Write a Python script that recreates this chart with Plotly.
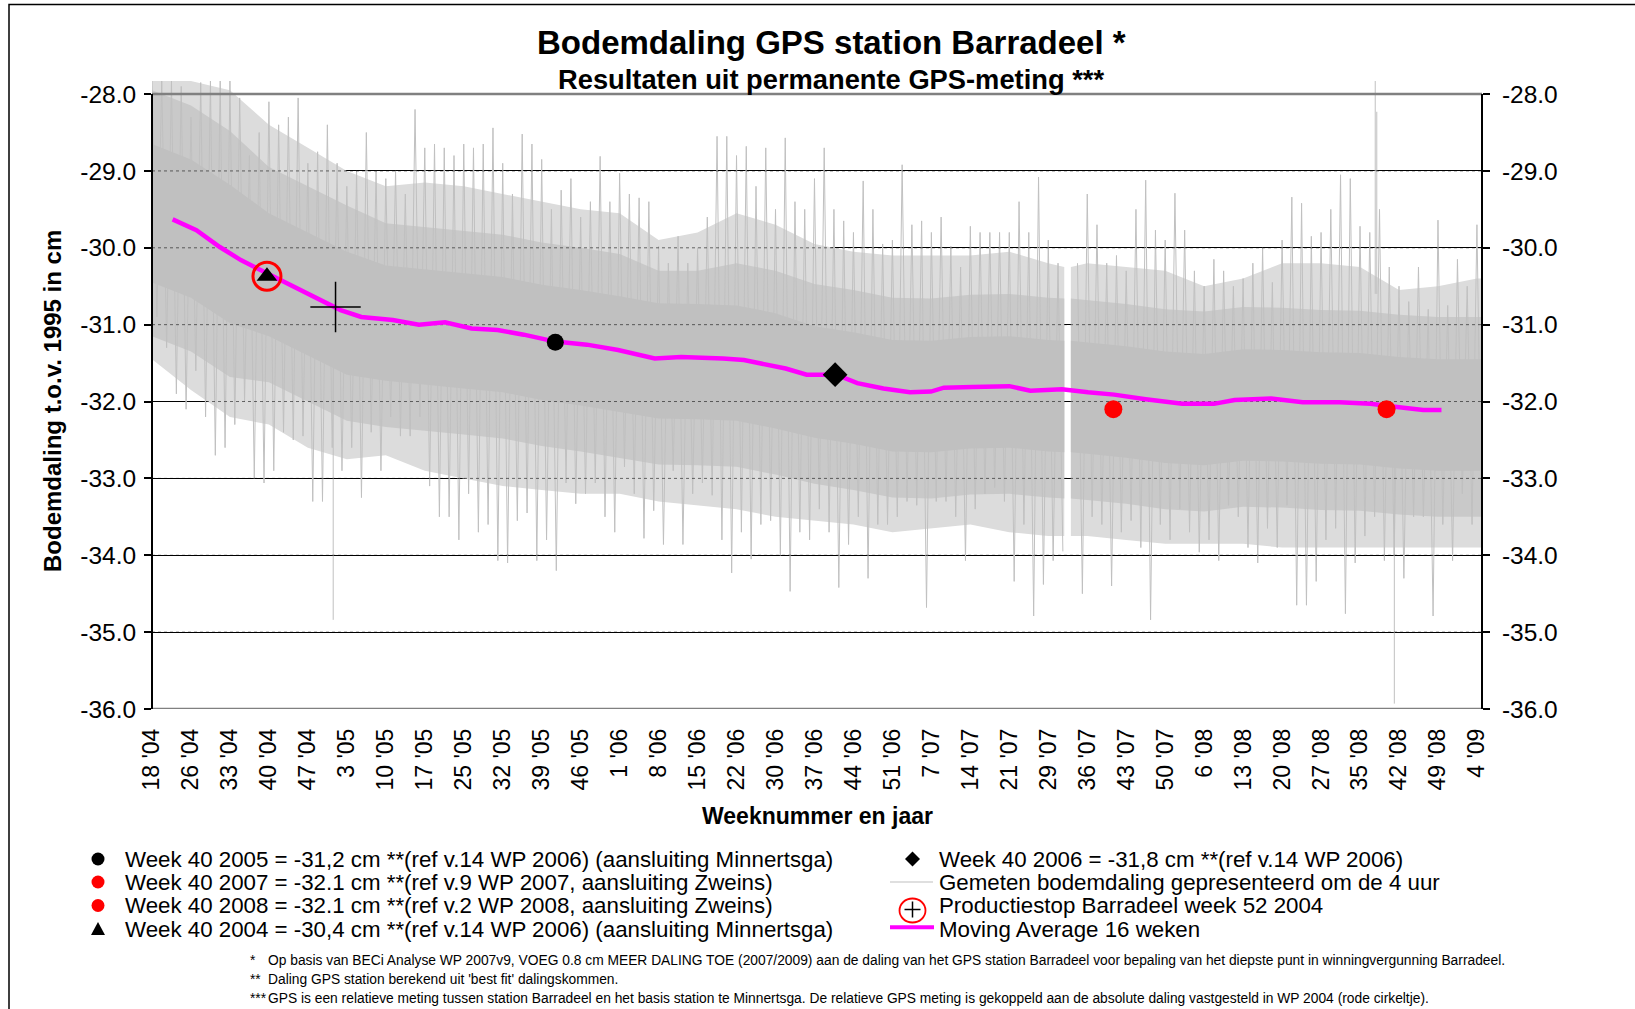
import plotly.graph_objects as go

# ---------------------------------------------------------------- data
x_labels = ["18 '04", "26 '04", "33 '04", "40 '04", "47 '04", "3 '05", "10 '05", "17 '05",
            "25 '05", "32 '05", "39 '05", "46 '05", "1 '06", "8 '06", "15 '06", "22 '06",
            "30 '06", "37 '06", "44 '06", "51 '06", "7 '07", "14 '07", "21 '07", "29 '07",
            "36 '07", "43 '07", "50 '07", "6 '08", "13 '08", "20 '08", "27 '08", "35 '08",
            "42 '08", "49 '08", "4 '09"]
y_ticks = [-28.0, -29.0, -30.0, -31.0, -32.0, -33.0, -34.0, -35.0, -36.0]

# x unit = one tick-label interval (label i sits at x = i)
# Measured series (grey, every 4 h): highest / lowest sample per quarter interval
meas_step = 0.25
meas_high = [-27.83, -27.83, -27.83, -27.9, -28.3, -27.85, -27.83, -27.83, -27.83, -28.05,
             -28.8, -28.5, -28.1, -28.4, -28.3, -28.05, -28.9, -28.75, -28.4, -28.9,
             -29.2, -29.0, -28.5, -29.0, -29.1, -29.0, -29.3, -28.2, -28.7, -28.65,
             -28.7, -28.8, -28.65, -28.7, -28.65,
             -28.44, -28.9, -29.3, -28.52, -28.65, -28.85, -29.5, -29.25, -29.1, -29.6,
             -29.4, -28.81, -29.4, -29.03, -29.3, -29.35, -29.4, -29.98, -30.2, -29.85,
             -30.2, -30.0, -29.6, -28.55, -28.55, -28.8, -28.68, -29.2, -28.7, -29.5,
             -28.57, -29.4, -29.5, -29.1,
             -28.7, -29.5, -29.65, -29.8, -29.13, -29.5, -29.95, -29.9, -28.92, -29.7,
             -29.65, -29.8, -29.6, -29.98, -30.25, -29.72, -29.8, -29.8, -29.8, -29.8,
             -29.4, -29.8, -29.08, -29.9, -30.2, None, -30.2, -29.3, -29.7, -30.2,
             -30.1, -30.3, -29.5, -29.12,
             -29.77, -29.9, -29.29, -29.77, -30.3, -30.5, -30.15, -30.3, -30.5, -30.4,
             -30.2, -30.0, -30.45, -29.9, -29.34, -29.42, -29.85, -29.8, -29.5, -29.05,
             -29.1, -29.72, -29.8, -29.5, -30.25, -30.5, -30.7, -30.25, -30.8, -29.64,
             -30.75, -30.15, -30.5, -29.7]
meas_low = [-30.9, -31.3, -31.9, -32.1, -31.6, -32.2, -32.7, -32.6, -32.3, -32.0,
            -33.0, -33.06, -32.9, -32.4, -32.5, -32.45, -33.3, -33.3, -32.6, -32.9,
            -32.6, -33.25, -32.4, -32.9, -32.2, -32.45, -32.45, -32.2, -33.1, -33.5,
            -33.5, -33.8, -33.2, -33.7, -33.6,
            -34.07, -34.1, -33.55, -33.45, -34.07, -33.8, -34.2, -33.06, -33.33, -33.2,
            -33.06, -33.5, -33.7, -32.85, -33.2, -33.78, -33.42, -33.86, -32.9, -33.86,
            -33.2, -33.06, -33.22, -33.8, -34.23, -33.7, -34.05, -33.6, -33.55, -34.0,
            -34.47, -33.7, -33.8, -33.4,
            -33.7, -34.42, -33.86, -33.5, -34.3, -33.6, -33.6, -33.5, -33.3, -33.35,
            -34.68, -33.3, -33.3, -33.5, -34.07, -33.4, -33.2, -33.12, -33.3, -34.34,
            -33.6, -34.79, -34.38, -34.07, -33.95, None, -34.5, -33.5, -33.6, -34.4,
            -33.7, -33.55, -33.9, -34.84,
            -33.6, -33.8, -33.4, -33.7, -33.96, -33.8, -34.07, -33.35, -33.5, -33.9,
            -34.1, -33.65, -33.9, -33.35, -34.65, -34.65, -34.34, -33.8, -33.65, -34.76,
            -34.1, -33.75, -33.5, -34.07, -34.0, -34.3, -33.5, -33.5, -34.79, -33.6,
            -34.07, -33.2, -33.6, -33.75]

# band positions (label-interval units), with the data gap edges
band_pos = [0, 1, 2, 3, 4, 5, 6, 7, 8, 9, 10, 11, 12, 13, 14, 15, 16, 17, 18, 19, 20, 21,
            22, 23, 23.41, 23.58, 24, 25, 26, 27, 28, 29, 30, 31, 32, 33, 34, 34.13]
# solid core of the measurements
core_high = [-28.65, -28.85, -29.18, -29.55, -29.8, -30.05, -30.23, -30.28, -30.33, -30.38,
             -30.48, -30.55, -30.63, -30.72, -30.73, -30.75, -30.85, -31.02, -31.1, -31.2,
             -31.21, -31.16, -31.15, -31.2, -31.21, -31.21, -31.23, -31.28, -31.35, -31.38,
             -31.32, -31.33, -31.36, -31.37, -31.42, -31.45, -31.45, -31.45]
core_low = [-30.45, -30.65, -30.98, -31.15, -31.4, -31.65, -31.73, -31.78, -31.83, -31.88,
            -31.98, -32.05, -32.13, -32.22, -32.23, -32.25, -32.35, -32.47, -32.55, -32.65,
            -32.66, -32.61, -32.6, -32.65, -32.66, -32.66, -32.68, -32.73, -32.8, -32.83,
            -32.77, -32.78, -32.81, -32.82, -32.87, -32.9, -32.9, -32.9]
# dense "forest" of samples around the core
forest_high = [-27.95, -28.15, -28.48, -28.95, -29.2, -29.45, -29.68, -29.73, -29.78, -29.83,
               -29.93, -30.0, -30.08, -30.3, -30.3, -30.2, -30.3, -30.47, -30.55, -30.65,
               -30.66, -30.61, -30.6, -30.65, -30.66, -30.66, -30.68, -30.73, -30.8, -30.83,
               -30.77, -30.78, -30.81, -30.82, -30.87, -30.9, -30.9, -30.9]
forest_low = [-31.15, -31.35, -31.68, -31.75, -32.0, -32.25, -32.33, -32.38, -32.43, -32.48,
              -32.58, -32.65, -32.73, -32.82, -32.83, -32.85, -32.95, -33.07, -33.15, -33.25,
              -33.26, -33.21, -33.2, -33.25, -33.26, -33.26, -33.28, -33.33, -33.4, -33.43,
              -33.37, -33.38, -33.41, -33.42, -33.47, -33.5, -33.5, -33.5]
# sparser outer fringe of samples
halo_high = [-27.83, -27.83, -27.95, -28.4, -28.7, -29.0, -29.2, -29.15, -29.2, -29.3,
             -29.4, -29.5, -29.55, -29.9, -29.8, -29.55, -29.7, -29.95, -30.05, -30.1,
             -30.1, -30.1, -30.05, -30.2, -30.25, -30.25, -30.2, -30.25, -30.3, -30.5,
             -30.4, -30.2, -30.2, -30.25, -30.55, -30.5, -30.4, -30.4]
halo_low = [-31.45, -31.85, -32.2, -32.3, -32.6, -32.75, -32.7, -32.9, -33.0, -33.1,
            -33.15, -33.2, -33.2, -33.3, -33.35, -33.4, -33.5, -33.55, -33.6, -33.7,
            -33.65, -33.6, -33.7, -33.75, -33.75, -33.75, -33.75, -33.8, -33.85, -33.85,
            -33.85, -33.9, -33.9, -33.9, -33.9, -33.9, -33.9, -33.9]
gap_from, gap_to = 23.41, 23.58

# isolated extreme samples
outlier_pos = [4.65, 31.39, 31.43, 31.88]
outlier_base = [-31.0, -30.6, -30.6, -32.6]
outlier_peak = [-34.84, -27.83, -28.23, -35.93]

# Moving Average 16 weken
ma_pos = [0.53, 1.14, 1.74, 2.28, 2.95, 3.63, 4.30, 4.84, 5.37, 6.18, 6.85, 7.52, 8.20,
          8.87, 9.54, 10.35, 11.16, 11.96, 12.9, 13.58, 14.65, 15.19, 16.26, 16.8, 17.56,
          18.1, 18.77, 19.45, 19.99, 20.32, 21.06, 22.0, 22.54, 23.35, 24.02, 24.69, 25.5,
          26.44, 27.25, 27.78, 28.72, 29.53, 30.47, 31.27, 31.95, 32.62, 33.09]
ma_val = [-29.63, -29.77, -29.99, -30.16, -30.33, -30.5, -30.66, -30.81, -30.9, -30.94,
          -31.0, -30.97, -31.05, -31.07, -31.13, -31.22, -31.26, -31.33, -31.44, -31.42,
          -31.44, -31.46, -31.57, -31.65, -31.65, -31.76, -31.83, -31.88, -31.87, -31.82,
          -31.81, -31.80, -31.86, -31.84, -31.88, -31.91, -31.97, -32.03, -32.03, -31.98,
          -31.96, -32.01, -32.01, -32.03, -32.07, -32.11, -32.11]

# reference points
w40_2004_pos, w40_2004_val = [2.95], [-30.37]
stop_pos, stop_val = [4.71], [-30.77]
w40_2005_pos, w40_2005_val = [10.35], [-31.23]
w40_2006_pos, w40_2006_val = [17.53], [-31.65]
red_pos, red_val = [24.67, 31.68], [-32.1, -32.1]

x_max = 34.13
y_min, y_max = -36.0, -27.83

legend_left = [
    "Week 40 2005 = -31,2 cm **(ref v.14 WP 2006) (aansluiting Minnertsga)",
    "Week 40 2007 = -32.1 cm **(ref v.9 WP 2007, aansluiting Zweins)",
    "Week 40 2008 = -32.1 cm **(ref v.2 WP 2008, aansluiting Zweins)",
    "Week 40 2004 = -30,4 cm **(ref v.14 WP 2006) (aansluiting Minnertsga)",
]
legend_right = [
    "Week 40 2006 = -31,8 cm **(ref v.14 WP 2006)",
    "Gemeten bodemdaling gepresenteerd om de 4 uur",
    "Productiestop Barradeel week 52 2004",
    "Moving Average 16 weken",
]
footnotes = [
    ("*", "Op basis van BECi Analyse WP 2007v9, VOEG 0.8 cm MEER DALING TOE (2007/2009) aan de daling van het GPS station Barradeel voor bepaling van het diepste punt in winningvergunning Barradeel."),
    ("**", "Daling GPS station berekend uit 'best fit' dalingskommen."),
    ("***", "GPS is een relatieve meting tussen station Barradeel en het basis station te Minnertsga. De relatieve GPS meting is gekoppeld aan de absolute daling vastgesteld in WP 2004 (rode cirkeltje)."),
]

# ---------------------------------------------------------------- layout helpers
FONT = "Liberation Sans, Arial, Helvetica, sans-serif"
W, H = 1635, 1009
ML, MR, MT, MB = 152, 153, 81, 300
PW, PH = W - ML - MR, H - MT - MB


def px_x(p):
    return (p - ML) / PW


def px_y(p):
    return (H - MB - p) / PH


GREY = "#C0C0C0"
fig = go.Figure()


def add_band(hi_list, lo_list, color):
    for keep in (lambda t: t <= gap_from, lambda t: t >= gap_to):
        idx = [i for i, t in enumerate(band_pos) if keep(t)]
        px_ = [band_pos[i] for i in idx]
        hi_ = [hi_list[i] for i in idx]
        lo_ = [lo_list[i] for i in idx]
        fig.add_trace(go.Scatter(x=px_ + px_[::-1], y=hi_ + lo_[::-1], mode="lines",
                                 fill="toself", fillcolor=color, line=dict(width=0, color=color),
                                 hoverinfo="skip", showlegend=False))


add_band(halo_high, halo_low, "#DCDCDC")
add_band(forest_high, forest_low, "#C9C9C9")
add_band(core_high, core_low, GREY)

# measured noise as zig-zag high/low
zx, zy = [], []
for i, (hi, lo) in enumerate(zip(meas_high, meas_low)):
    p = i * meas_step
    if hi is None or lo is None:
        zx.append(None); zy.append(None)
        continue
    zx += [p, p + meas_step / 2]
    zy += [hi, lo]
fig.add_trace(go.Scatter(x=zx, y=zy, mode="lines", line=dict(color=GREY, width=1),
                         hoverinfo="skip", showlegend=False))

ox, oy = [], []
for p, b, v in zip(outlier_pos, outlier_base, outlier_peak):
    ox += [p, p, None]
    oy += [b, v, None]
fig.add_trace(go.Scatter(x=ox, y=oy, mode="lines", line=dict(color=GREY, width=1),
                         hoverinfo="skip", showlegend=False))

# gridlines showing through the grey
gx, gy = [], []
for v in y_ticks[1:-1]:
    gx += [0, x_max, None]
    gy += [v, v, None]
fig.add_trace(go.Scatter(x=gx, y=gy, mode="lines",
                         line=dict(color="rgba(0,0,0,0.55)", width=1, dash="dot"),
                         hoverinfo="skip", showlegend=False))

# moving average
fig.add_trace(go.Scatter(x=ma_pos, y=ma_val, mode="lines", line=dict(color="#FF00FF", width=4.5),
                         hoverinfo="skip", showlegend=False))

# reference markers (on overlaying right axis -> drawn on top)
mk = dict(mode="markers", hoverinfo="skip", showlegend=False, yaxis="y2")
fig.add_trace(go.Scatter(x=w40_2004_pos, y=w40_2004_val,
                         marker=dict(symbol="circle-open", size=28, color="#FF0000",
                                     line=dict(width=3, color="#FF0000")), **mk))
fig.add_trace(go.Scatter(x=w40_2004_pos, y=w40_2004_val,
                         marker=dict(symbol="triangle-up", size=18, color="black"), **mk))
fig.add_trace(go.Scatter(x=stop_pos, y=stop_val,
                         marker=dict(symbol="cross-thin-open", size=36, color="black",
                                     line=dict(width=1.5, color="black")), **mk))
fig.add_trace(go.Scatter(x=w40_2005_pos, y=w40_2005_val,
                         marker=dict(symbol="circle", size=17, color="black"), **mk))
fig.add_trace(go.Scatter(x=w40_2006_pos, y=w40_2006_val,
                         marker=dict(symbol="diamond", size=19, color="black"), **mk))
fig.add_trace(go.Scatter(x=red_pos, y=red_val,
                         marker=dict(symbol="circle", size=18, color="#FF0000"), **mk))

ytext = ["%.1f" % v for v in y_ticks]
yax = dict(range=[y_min, y_max], tickvals=y_ticks, ticktext=ytext, ticks="outside", ticklen=7,
           tickwidth=1.5, tickcolor="black", zeroline=False, showline=False,
           tickfont=dict(family=FONT, size=24.5, color="black"))
fig.update_layout(
    width=W, height=H, margin=dict(l=ML, r=MR, t=MT, b=MB, pad=0),
    paper_bgcolor="white", plot_bgcolor="white",
    xaxis=dict(range=[0, x_max], tickvals=list(range(len(x_labels))), ticktext=x_labels,
               tickangle=-90, ticks="", showgrid=False, zeroline=False, showline=False,
               tickfont=dict(family=FONT, size=23, color="black"), ticklabelstandoff=14),
    yaxis=dict(showgrid=True, gridcolor="black", gridwidth=1, side="left",
               ticklabelstandoff=3, **yax),
    yaxis2=dict(overlaying="y", side="right", showgrid=False, ticklabelstandoff=7, **yax),
    showlegend=False,
)

shapes = []
# plot frame
shapes.append(dict(type="line", xref="paper", yref="y", x0=0, x1=1, y0=-28, y1=-28,
                   line=dict(color="#808080", width=2.5), layer="above"))
shapes.append(dict(type="line", xref="paper", yref="y", x0=0, x1=1, y0=-36, y1=-36,
                   line=dict(color="#808080", width=2.5), layer="above"))
for xp in (0, 1):
    shapes.append(dict(type="line", xref="paper", yref="y", x0=xp, x1=xp, y0=-36, y1=-28,
                       line=dict(color="black", width=2), layer="above"))
# outer chart border
shapes.append(dict(type="rect", xref="paper", yref="paper", x0=px_x(9), x1=px_x(1645),
                   y0=px_y(1020), y1=px_y(4.5), line=dict(color="black", width=1.5),
                   fillcolor="rgba(0,0,0,0)", layer="above"))

ann = []
ann.append(dict(text="Bodemdaling GPS station Barradeel *", x=px_x(831), y=px_y(42),
                xref="paper", yref="paper", showarrow=False, xanchor="center", yanchor="middle",
                font=dict(family=FONT, size=33, color="black", weight="bold")))
ann.append(dict(text="Resultaten uit permanente GPS-meting ***", x=px_x(831), y=px_y(80),
                xref="paper", yref="paper", showarrow=False, xanchor="center", yanchor="middle",
                font=dict(family=FONT, size=27.3, color="black", weight="bold")))
ann.append(dict(text="Weeknummer en jaar", x=px_x(817), y=px_y(816), xref="paper", yref="paper",
                showarrow=False, xanchor="center", yanchor="middle",
                font=dict(family=FONT, size=23, color="black", weight="bold")))
ann.append(dict(text="Bodemdaling t.o.v. 1995 in cm", x=px_x(52), y=px_y(401), xref="paper",
                yref="paper", showarrow=False, xanchor="center", yanchor="middle", textangle=-90,
                font=dict(family=FONT, size=24, color="black", weight="bold")))

rows = [859, 882, 905.5, 929]
for r, t in zip(rows, legend_left):
    ann.append(dict(text=t, x=px_x(123), y=px_y(r), xref="paper", yref="paper", showarrow=False,
                    xanchor="left", yanchor="middle", font=dict(family=FONT, size=22.3, color="black")))
for r, t in zip(rows, legend_right):
    ann.append(dict(text=t, x=px_x(937), y=px_y(r), xref="paper", yref="paper", showarrow=False,
                    xanchor="left", yanchor="middle", font=dict(family=FONT, size=22.3, color="black")))

fy = [960, 979, 998]
for r, (star, t) in zip(fy, footnotes):
    ann.append(dict(text=star, x=px_x(248), y=px_y(r), xref="paper", yref="paper", showarrow=False,
                    xanchor="left", yanchor="middle", font=dict(family=FONT, size=13.8, color="black")))
    ann.append(dict(text=t, x=px_x(266), y=px_y(r), xref="paper", yref="paper", showarrow=False,
                    xanchor="left", yanchor="middle", font=dict(family=FONT, size=13.8, color="black")))


def circ(cx, cy, rx, ry, fill, line_col, lw=0):
    return dict(type="circle", xref="paper", yref="paper", x0=px_x(cx - rx), x1=px_x(cx + rx),
                y0=px_y(cy + ry), y1=px_y(cy - ry), fillcolor=fill,
                line=dict(color=line_col, width=lw))


def poly(pts, fill):
    d = "M " + " L ".join("%f,%f" % (px_x(a), px_y(b)) for a, b in pts) + " Z"
    return dict(type="path", xref="paper", yref="paper", path=d, fillcolor=fill,
                line=dict(width=0, color=fill))


def seg(x0, y0, x1, y1, col, lw):
    return dict(type="line", xref="paper", yref="paper", x0=px_x(x0), x1=px_x(x1),
                y0=px_y(y0), y1=px_y(y1), line=dict(color=col, width=lw))


lx, rx = 98, 912.5
shapes.append(circ(lx, rows[0], 6.5, 6.5, "black", "black"))
shapes.append(circ(lx, rows[1], 6.5, 6.5, "#FF0000", "#FF0000"))
shapes.append(circ(lx, rows[2], 6.5, 6.5, "#FF0000", "#FF0000"))
shapes.append(poly([(lx - 7, rows[3] + 6), (lx + 7, rows[3] + 6), (lx, rows[3] - 7)], "black"))
shapes.append(poly([(rx, rows[0] - 7.5), (rx + 7.5, rows[0]), (rx, rows[0] + 7.5), (rx - 7.5, rows[0])], "black"))
shapes.append(seg(890, rows[1], 933, rows[1], "#C0C0C0", 1.2))
shapes.append(circ(rx, 910.5, 13, 12, "rgba(0,0,0,0)", "#FF0000", 1.8))
shapes.append(seg(rx - 8, 909.5, rx + 8, 909.5, "black", 1.5))
shapes.append(seg(rx, 901.5, rx, 917.5, "black", 1.5))
shapes.append(seg(890, 927.3, 934, 927.3, "#FF00FF", 4))

fig.update_layout(shapes=shapes, annotations=ann)
fig.write_html("out.html", config={"displayModeBar": False},
               post_script="document.body.style.margin='0px';")
